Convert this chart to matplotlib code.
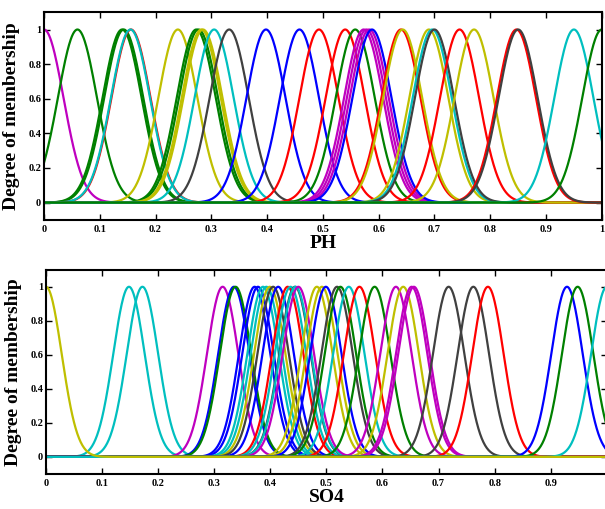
import numpy as np
import matplotlib
matplotlib.use('Agg')
import matplotlib.pyplot as plt

plt.rcParams['font.family'] = ['Liberation Serif', 'DejaVu Serif']
plt.rcParams['font.weight'] = 'bold'

# matlab-style colours
col = {'b': (0, 0, 1), 'g': (0, 0.5, 0), 'r': (1, 0, 0), 'c': (0, 0.75, 0.75),
       'm': (0.75, 0, 0.75), 'y': (0.75, 0.75, 0), 'k': (0.25, 0.25, 0.25)}

# gaussian membership functions: centres + colours
ph_centers = [0.000, 0.060, 0.140, 0.143, 0.156, 0.155, 0.240, 0.273, 0.277,
              0.282, 0.285, 0.305, 0.332, 0.398, 0.458, 0.493, 0.540, 0.558,
              0.573, 0.578, 0.583, 0.588, 0.640, 0.643, 0.690, 0.696, 0.700,
              0.745, 0.771, 0.847, 0.850, 0.950, 1.000]
ph_colors = ['m', 'g', 'g', 'g', 'r', 'c', 'y', 'g', 'g',
             'y', 'y', 'c', 'k', 'b', 'b', 'r', 'r', 'g',
             'm', 'm', 'm', 'b', 'r', 'y', 'y', 'c', 'k',
             'r', 'y', 'r', 'k', 'c', 'g']
ph_sigma = 0.035

so4_centers = [0.148, 0.172, 0.315, 0.335, 0.338, 0.372, 0.378, 0.387,
               0.393, 0.399, 0.405, 0.414, 0.431, 0.436, 0.444, 0.445, 0.450,
               0.483, 0.492, 0.499, 0.519, 0.525, 0.540, 0.559, 0.586, 0.624,
               0.637, 0.652, 0.656, 0.718, 0.762, 0.788, 0.929, 0.948, 1.000,
               0.000]
so4_colors = ['c', 'c', 'm', 'b', 'g', 'b', 'b', 'c',
              'c', 'y', 'k', 'b', 'r', 'c', 'k', 'c', 'm',
              'y', 'y', 'b', 'k', 'g', 'c', 'r', 'g', 'm',
              'y', 'm', 'm', 'k', 'k', 'r', 'b', 'g', 'c',
              'y']
so4_sigma = 0.028

x = np.linspace(0, 1, 1001)

fig = plt.figure(figsize=(6.05, 5.09), dpi=100)
ax1 = fig.add_axes([0.0727, 0.568, 0.922, 0.408])
ax2 = fig.add_axes([0.0760, 0.069, 0.927, 0.401])


def draw(ax, centers, colors, sigma, name):
    for c, k in zip(centers, colors):
        ax.plot(x, np.exp(-(x - c) ** 2 / (2 * sigma ** 2)), color=col[k], lw=1.6)
    ax.set_xlim(0, 1)
    ax.set_ylim(-0.1, 1.1)
    ax.set_xticks(np.arange(0, 1.01, 0.1))
    ax.set_xticklabels(['0'] + ['%.1f' % v for v in np.arange(0.1, 0.95, 0.1)] + ['1'])
    ax.set_yticks(np.arange(0, 1.01, 0.2))
    ax.set_yticklabels(['0', '0.2', '0.4', '0.6', '0.8', '1'])
    ax.tick_params(direction='in', top=True, right=True, length=4, width=1,
                   labelsize=7.5)
    ax.tick_params(axis='x', pad=3.5)
    ax.tick_params(axis='y', pad=2)
    for s in ax.spines.values():
        s.set_linewidth(1.5)
    ax.set_xlabel(name, fontsize=14, fontweight='bold', labelpad=1)
    ax.set_ylabel('Degree of membership', fontsize=14, fontweight='bold', labelpad=6)


draw(ax1, ph_centers, ph_colors, ph_sigma, 'PH')
draw(ax2, so4_centers, so4_colors, so4_sigma, 'SO4')

fig.savefig('out.png', dpi=100)
